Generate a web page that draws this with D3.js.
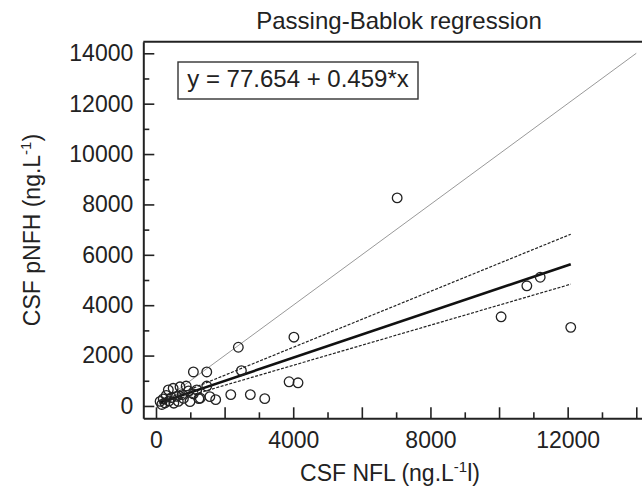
<!DOCTYPE html>
<html lang="en">
<head>
  <meta charset="UTF-8">
  <title>Passing-Bablok regression</title>
  <script src="https://d3js.org/d3.v7.min.js"></script>
  <style>
    body { margin: 0; background: #fff; }
    svg text { font-family: "Liberation Sans", Arial, sans-serif; fill: #222; }
  </style>
</head>
<body>
  <svg width="642" height="487"></svg>

  <script>
    // CSF NFL (x) vs CSF pNFH (y)
    const nfl  = [120, 170, 210, 260, 300, 360, 380, 450, 500, 520, 600, 650, 700, 760, 800, 880,
                  950, 990, 1090, 1090, 1190, 1250, 1290, 1480, 1480, 1570, 1740, 2180, 2400, 2490,
                  2750, 3170, 3880, 4020, 4140, 7030, 10060, 10810, 11200, 12090];
    const pnfh = [180, 60, 280, 120, 420, 640, 200, 330, 700, 110, 380, 180, 760, 450, 300, 790,
                  600, 170, 1350, 480, 640, 290, 310, 1350, 790, 370, 250, 450, 2330, 1400,
                  450, 290, 960, 2730, 920, 8260, 3540, 4770, 5110, 3120];

    // [intercept, slope]
    const fit     = [77.654, 0.459];
    const ciUpper = [108, 0.555];
    const ciLower = [22, 0.398];
    const identity = [0, 14000];

    const xMajor = d3.range(0, 14001, 2000);
    const xMinor = d3.range(1000, 14000, 2000);
    const yMajor = d3.range(0, 14001, 2000);
    const yMinor = d3.range(1000, 14000, 2000);

    const svg = d3.select("svg");
    const mLeft = 143.3, mRight = 650, mTop = 41.7, mBottom = 418.3;

    const x = d3.scaleLinear().domain([-370, 14400]).range([mLeft, mRight]);
    const y = d3.scaleLinear().domain([-490, 14460]).range([mBottom, mTop]);

    svg.append("clipPath").attr("id", "plot")
      .append("rect")
        .attr("x", mLeft).attr("y", mTop)
        .attr("width", mRight - mLeft).attr("height", mBottom - mTop);

    // frame (top border, right side is off the picture)
    svg.append("line")
        .attr("x1", mLeft).attr("x2", mRight)
        .attr("y1", mTop).attr("y2", mTop)
        .attr("stroke", "#222").attr("stroke-width", 2);

    // axes
    svg.append("g")
        .attr("transform", `translate(0,${mBottom})`)
        .call(d3.axisBottom(x).tickValues(xMajor).tickSize(-11).tickSizeOuter(0)
          .tickPadding(13.5).tickFormat(d => d % 4000 === 0 ? d : ""));
    svg.append("g")
        .attr("transform", `translate(0,${mBottom})`)
        .call(d3.axisBottom(x).tickValues(xMinor).tickSize(-6).tickSizeOuter(0).tickFormat(""))
        .call(g => g.select(".domain").remove());

    svg.append("g")
        .attr("transform", `translate(${mLeft},0)`)
        .call(d3.axisLeft(y).tickValues(yMajor).tickSize(-11).tickSizeOuter(0)
          .tickPadding(10).tickFormat(d3.format("d")));
    svg.append("g")
        .attr("transform", `translate(${mLeft},0)`)
        .call(d3.axisLeft(y).tickValues(yMinor).tickSize(-6).tickSizeOuter(0).tickFormat(""))
        .call(g => g.select(".domain").remove());

    svg.selectAll(".tick line").attr("stroke", "#222").attr("stroke-width", 1.6);
    svg.selectAll(".domain").attr("stroke", "#222").attr("stroke-width", 2);
    svg.selectAll(".tick text").attr("font-size", 23).style("font-family", "Liberation Sans, Arial, sans-serif");

    // lines
    const lines = svg.append("g").attr("clip-path", "url(#plot)");
    const line = d3.line().x(d => x(d[0])).y(d => y(d[1]));
    const xMin = d3.min(nfl), xMax = d3.max(nfl);
    const along = p => [[xMin, p[0] + p[1] * xMin], [xMax, p[0] + p[1] * xMax]];

    lines.append("path")
        .attr("d", line(identity.map(v => [v, v])))
        .attr("fill", "none").attr("stroke", "#999").attr("stroke-width", 1);
    [ciUpper, ciLower].forEach(p => {
      lines.append("path")
          .attr("d", line(along(p)))
          .attr("fill", "none").attr("stroke", "#222")
          .attr("stroke-width", 1.2).attr("stroke-dasharray", "3,1.5");
    });
    lines.append("path")
        .attr("d", line(along(fit)))
        .attr("fill", "none").attr("stroke", "#111").attr("stroke-width", 2.6);

    // points
    svg.append("g")
      .selectAll("circle")
      .data(nfl.map((v, i) => [v, pnfh[i]]))
      .enter().append("circle")
        .attr("cx", d => x(d[0]))
        .attr("cy", d => y(d[1]))
        .attr("r", 4.8)
        .attr("fill", "none")
        .attr("stroke", "#222")
        .attr("stroke-width", 1.3);

    // equation box
    svg.append("rect")
        .attr("x", 178).attr("y", 62).attr("width", 240).attr("height", 37)
        .attr("fill", "#fff").attr("stroke", "#333").attr("stroke-width", 1.4);
    svg.append("text")
        .attr("x", 298).attr("y", 87)
        .attr("text-anchor", "middle").attr("font-size", 24)
        .text(`y = ${fit[0]} + ${fit[1]}*x`);

    // title
    svg.append("text")
        .attr("x", 399).attr("y", 28.5)
        .attr("text-anchor", "middle").attr("font-size", 24)
        .text("Passing-Bablok regression");

    // axis labels
    const xl = svg.append("text")
        .attr("x", 390).attr("y", 481)
        .attr("text-anchor", "middle").attr("font-size", 23);
    xl.append("tspan").text("CSF NFL (ng.L");
    xl.append("tspan").attr("dy", -9).attr("font-size", 15).text("-1");
    xl.append("tspan").attr("dy", 9).text("l)");

    const yl = svg.append("text")
        .attr("transform", `translate(40,230) rotate(-90)`)
        .attr("text-anchor", "middle").attr("font-size", 23);
    yl.append("tspan").text("CSF pNFH (ng.L");
    yl.append("tspan").attr("dy", -9).attr("font-size", 15).text("-1");
    yl.append("tspan").attr("dy", 9).text(")");
  </script>
</body>
</html>
